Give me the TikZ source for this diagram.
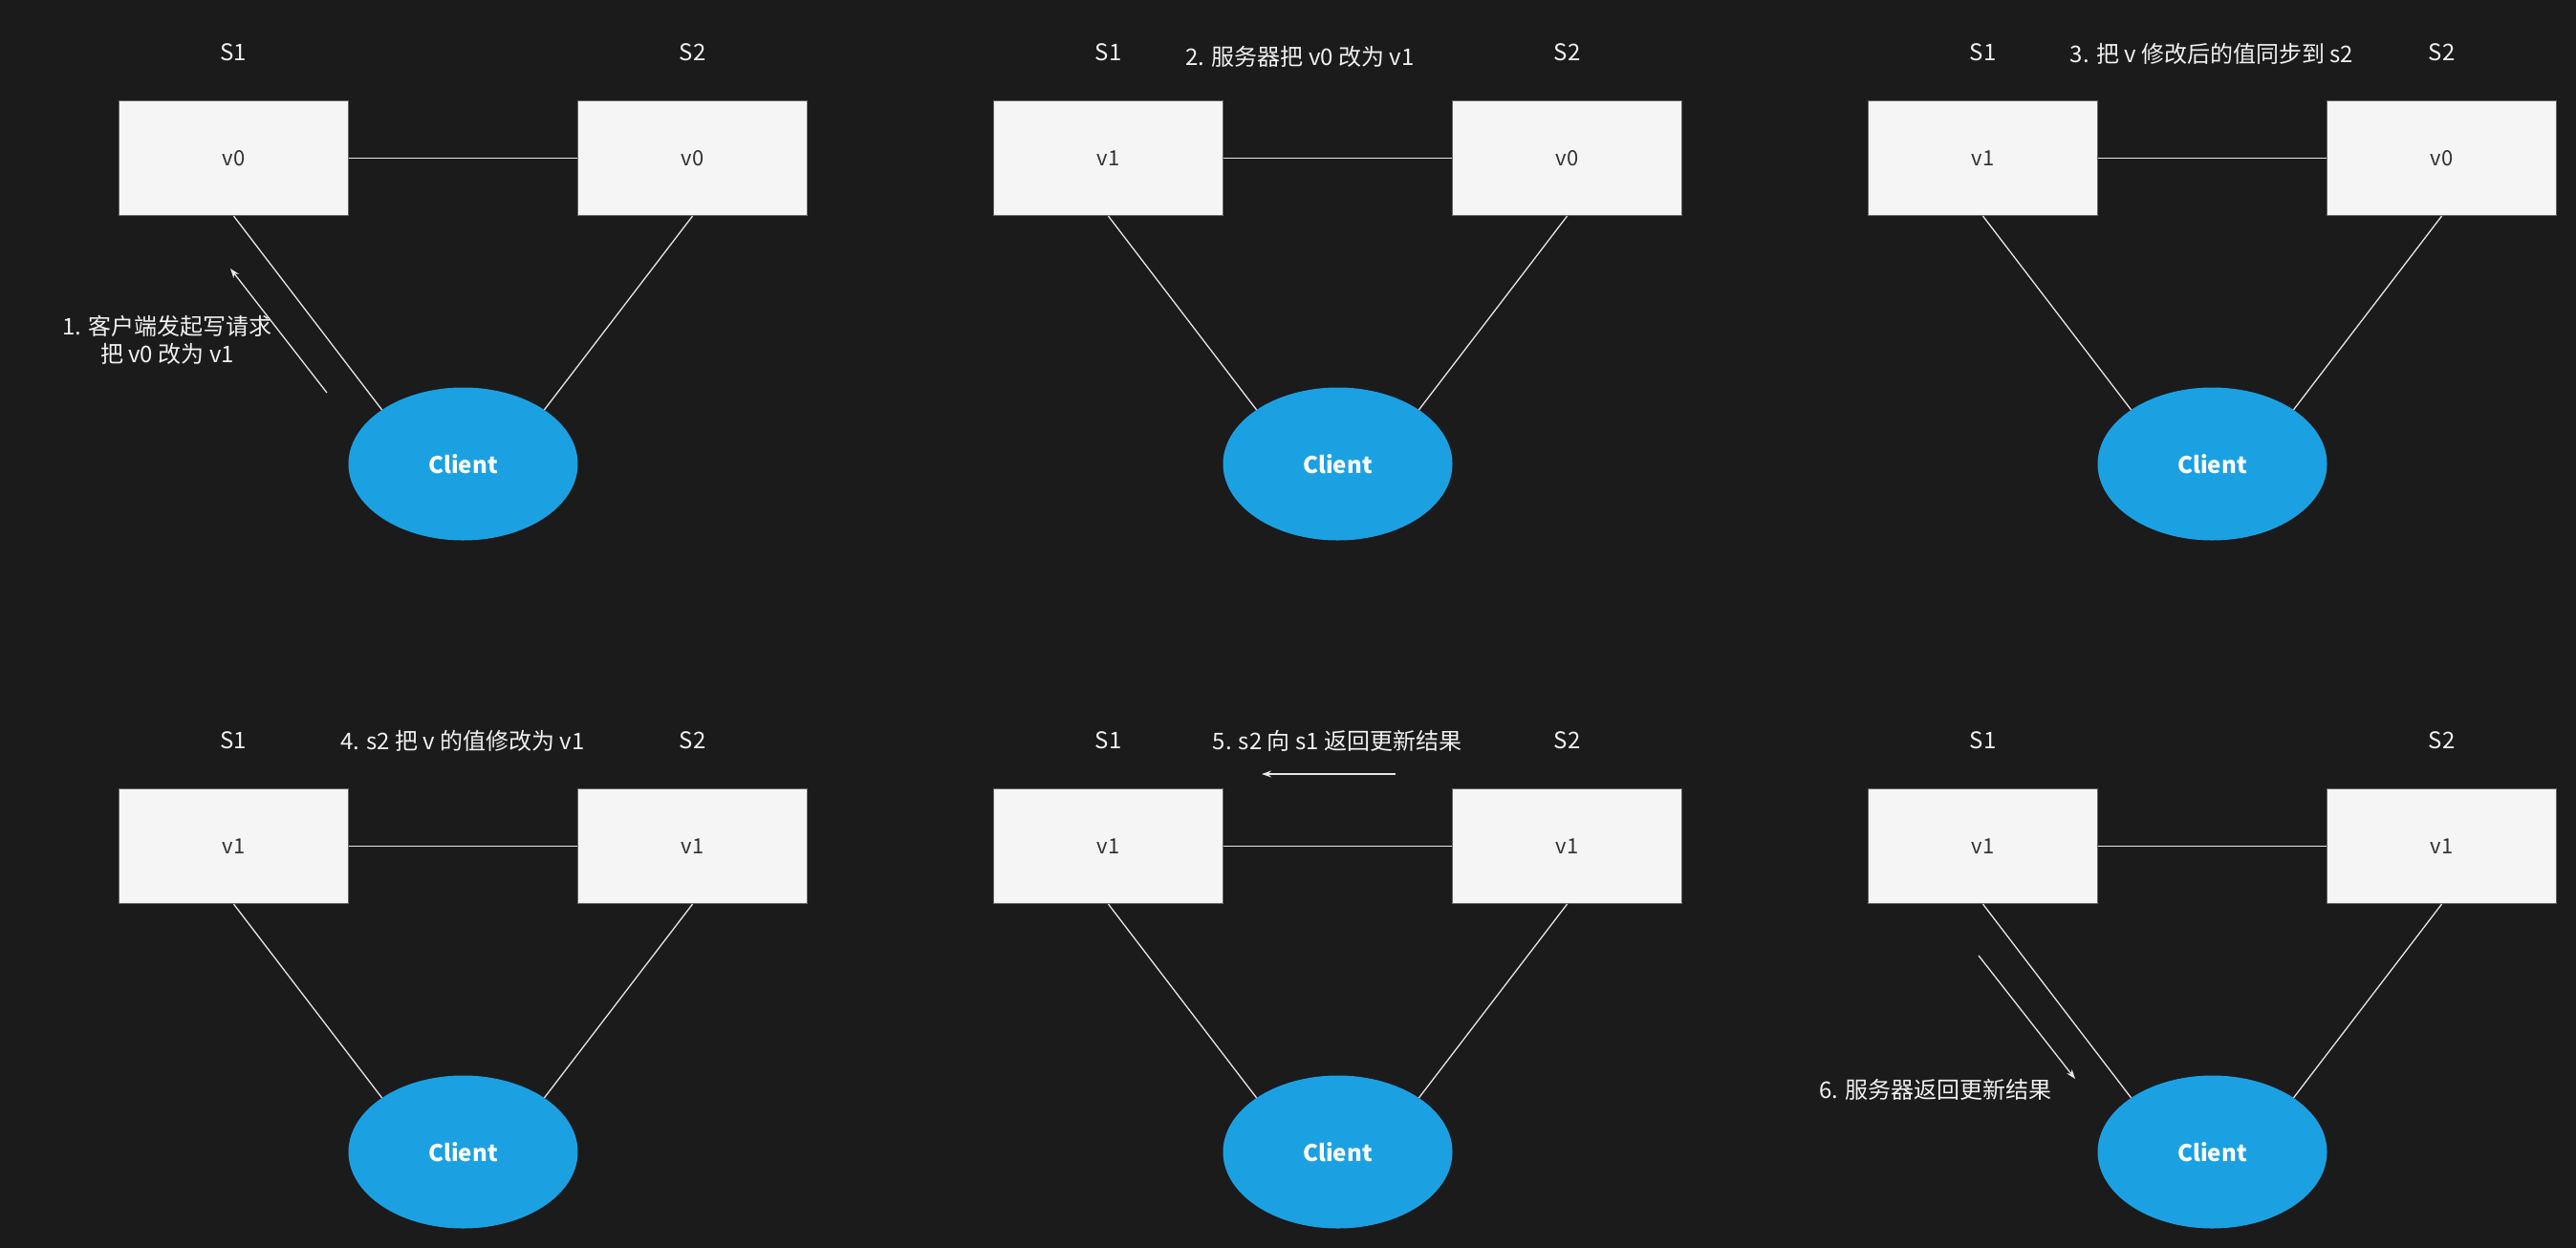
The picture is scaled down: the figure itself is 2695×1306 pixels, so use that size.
\documentclass[tikz,border=0pt]{standalone}
\usepackage{fontspec}
\setmainfont{Noto Sans CJK SC}
\usetikzlibrary{shapes.geometric,arrows.meta}
\definecolor{bgc}{HTML}{1B1B1B}
\definecolor{boxfill}{HTML}{F5F5F5}
\definecolor{boxline}{HTML}{666666}
\definecolor{cblue}{HTML}{1BA1E2}
\definecolor{txtc}{HTML}{F0F0F0}
\definecolor{darktxt}{HTML}{333333}
\definecolor{linkc}{HTML}{E6E6E6}
\tikzset{
  server/.style={draw=boxline, line width=1.2pt, fill=boxfill, minimum width=240pt, minimum height=120pt, inner sep=0pt, text=darktxt, font=\fontsize{22}{26}\selectfont},
  client/.style={ellipse, fill=cblue, draw=none, minimum width=240pt, minimum height=160pt, inner sep=0pt, text=white, font=\fontsize{24}{28}\selectfont\bfseries},
  lbl/.style={text=txtc, inner sep=0pt, font=\fontsize{24}{28}\selectfont},
  note/.style={text=txtc, inner sep=0pt, align=center, font=\fontsize{24}{29}\selectfont},
  link/.style={draw=linkc, line width=1.3pt},
  msg/.style={draw=linkc, line width=1.3pt, -{Stealth[length=10pt,width=7pt]}}
}
\newcommand{\mypanel}[4]{%
  \begin{scope}[shift={(#2)}]
    \node[lbl] (#1l1) at (244.5,55) {S1};
    \node[lbl] (#1l2) at (724.5,55) {S2};
    \node[server] (#1s1) at (244.5,165.5) {#3};
    \node[server] (#1s2) at (724.5,165.5) {#4};
    \node[client] (#1c) at (484.5,485.5) {Client};
    \draw[link] (#1s1.east) -- (#1s2.west);
    \draw[link] (#1s1.south) -- (#1c.north west);
    \draw[link] (#1s2.south) -- (#1c.north east);
  \end{scope}}
\begin{document}
\begin{tikzpicture}[x=1pt,y=-1pt]
  \fill[bgc] (0,0) rectangle (2695,1306);
  \useasboundingbox (0,0) rectangle (2695,1306);
  \mypanel{a}{0,0}{v0}{v0}
  \mypanel{b}{915,0}{v1}{v0}
  \mypanel{c}{1830,0}{v1}{v0}
  \mypanel{d}{0,720}{v1}{v1}
  \mypanel{e}{915,720}{v1}{v1}
  \mypanel{f}{1830,720}{v1}{v1}
  % panel 1
  \node[note] (n1) at (175,356) {1. 客户端发起写请求\\把 v0 改为 v1};
  \coordinate (a1s) at (342,411);
  \coordinate (a1e) at (241,281);
  \draw[msg] (a1s) -- (a1e);
  % panel 2
  \node[note] (n2) at (1360,59) {2. 服务器把 v0 改为 v1};
  % panel 3
  \node[note] (n3) at (2314,56) {3. 把 v 修改后的值同步到 s2};
  % panel 4
  \node[note] (n4) at (484,775) {4. s2 把 v 的值修改为 v1};
  % panel 5
  \node[note] (n5) at (1399,775) {5. s2 向 s1 返回更新结果};
  \coordinate (a5s) at (1460,810);
  \coordinate (a5e) at (1320,810);
  \draw[msg] (a5s) -- (a5e);
  % panel 6
  \node[note] (n6) at (2025,1140) {6. 服务器返回更新结果};
  \coordinate (a6s) at (2070,1000);
  \coordinate (a6e) at (2171,1129);
  \draw[msg] (a6s) -- (a6e);
\end{tikzpicture}
\end{document}
